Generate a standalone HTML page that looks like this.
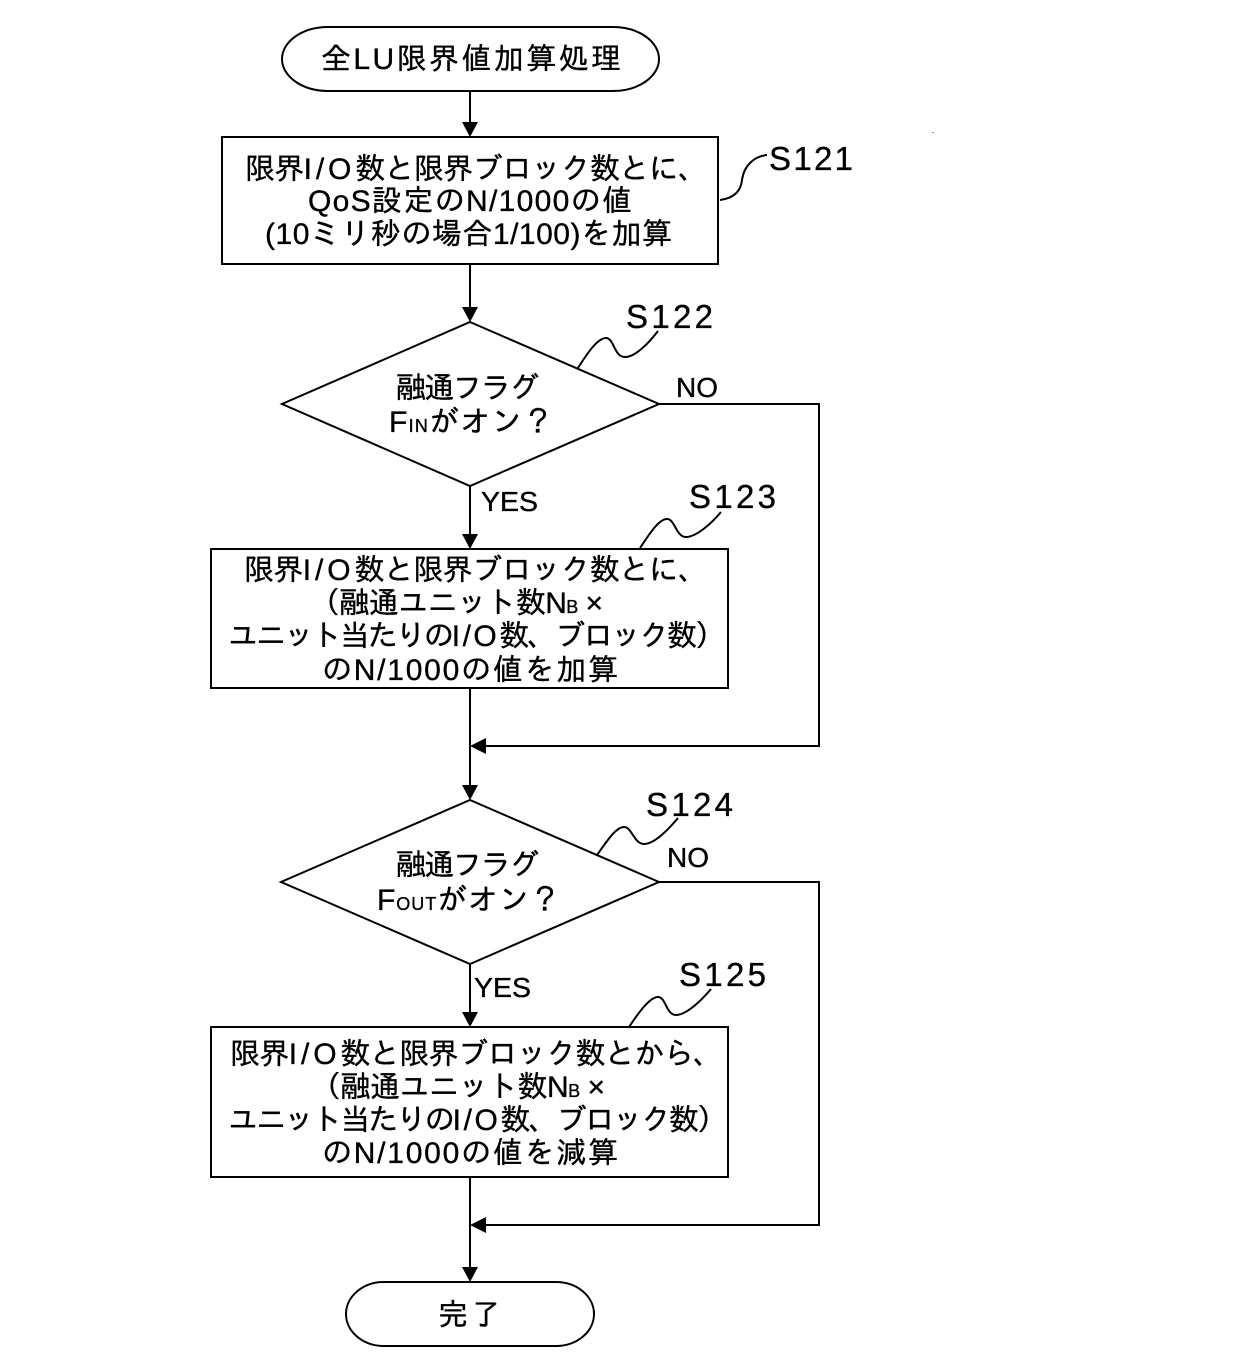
<!DOCTYPE html>
<html><head><meta charset="utf-8"><style>
html,body{margin:0;padding:0;background:#fff}
svg{display:block}
text{font-family:"Liberation Sans","IPAGothic","Noto Sans CJK JP",sans-serif;fill:#000;stroke:#000;stroke-width:.35;font-size:30px}
.s{font-size:28px}
.l{font-size:33px}
.w{letter-spacing:4.5px}
</style></head><body>
<svg width="1244" height="1370" viewBox="0 0 1244 1370" xmlns="http://www.w3.org/2000/svg">
<g fill="none" stroke="#000" stroke-width="2">
<rect x="282" y="27" width="377" height="64" rx="46" ry="32"/>
<rect x="222" y="137" width="496" height="127"/>
<polygon points="470,322 659,404 470,486 282,404"/>
<rect x="211" y="549" width="517" height="139"/>
<polygon points="470,800 659,882 470,964 281,882"/>
<rect x="211" y="1027" width="517" height="150"/>
<rect x="346" y="1282" width="248" height="64" rx="38" ry="32"/>
<path d="M470 91V125M470 264V310M470 486V537M470 688V788M470 964V1015M470 1177V1270"/>
<path d="M659 404H819V746H484M659 882H819V1225H484"/>
<path d="M720 200C735 198 741 190 742 180C744 165 755 156 767 155"/>
<path d="M578 368C588 352 598 338 606 338C614 338 614 357 625 357C635 357 648 344 658 331"/>
<path d="M640 548C650 533 659 519 667 519C675 519 676 537 686 537C696 537 711 524 721 512"/>
<path d="M597 855C607 841 616 827 624 827C632 827 634 844 644 844C654 844 668 830 678 818"/>
<path d="M629 1027C639 1012 650 997 658 997C666 997 666 1015 676 1015C686 1015 701 1001 711 989"/>
</g>
<g fill="#000">
<polygon points="470,137 462,122 478,122"/>
<polygon points="470,322 462,307 478,307"/>
<polygon points="470,549 462,534 478,534"/>
<polygon points="470,800 462,785 478,785"/>
<polygon points="470,1027 462,1012 478,1012"/>
<polygon points="470,1282 462,1267 478,1267"/>
<polygon points="470,746 486,738 486,754"/>
<polygon points="470,1225 486,1217 486,1233"/>
<rect x="932" y="132" width="2" height="1" fill="#999"/>
</g>
<text x="321" y="69" textLength="300" lengthAdjust="spacing">全LU限界値加算処理</text>
<text x="245" y="179" textLength="463" lengthAdjust="spacing">限界<tspan class="w">I/O</tspan>数と限界ブロック数とに、</text>
<text x="308" y="211" textLength="324" lengthAdjust="spacing">QoS設定のN/1000の値</text>
<text x="265" y="244" textLength="407" lengthAdjust="spacing">(10ミリ秒の場合1/100)を加算</text>
<text x="396" y="398" textLength="143" lengthAdjust="spacing">融通フラグ</text>
<text x="389" y="432" textLength="164" lengthAdjust="spacing">F<tspan font-size="18">IN</tspan>がオン？</text>
<text x="244" y="580" textLength="464" lengthAdjust="spacing">限界<tspan class="w">I/O</tspan>数と限界ブロック数とに、</text>
<text x="310" y="613" textLength="293" lengthAdjust="spacing">（融通ユニット数N<tspan font-size="18">B</tspan> ×</text>
<text x="228" y="646" textLength="497" lengthAdjust="spacing">ユニット当たりの<tspan class="w">I/O</tspan>数、ブロック数）</text>
<text x="322" y="680" textLength="296" lengthAdjust="spacing">のN/1000の値を加算</text>
<text x="396" y="875" textLength="143" lengthAdjust="spacing">融通フラグ</text>
<text x="377" y="910" textLength="183" lengthAdjust="spacing">F<tspan font-size="18">OUT</tspan>がオン？</text>
<text x="230" y="1064" textLength="493" lengthAdjust="spacing">限界<tspan class="w">I/O</tspan>数と限界ブロック数とから、</text>
<text x="311" y="1097" textLength="294" lengthAdjust="spacing">（融通ユニット数N<tspan font-size="18">B</tspan> ×</text>
<text x="228" y="1130" textLength="499" lengthAdjust="spacing">ユニット当たりの<tspan class="w">I/O</tspan>数、ブロック数）</text>
<text x="322" y="1163" textLength="296" lengthAdjust="spacing">のN/1000の値を減算</text>
<text x="438" y="1325" textLength="63" lengthAdjust="spacing">完了</text>
<text class="s" x="676" y="397" textLength="42" lengthAdjust="spacingAndGlyphs">NO</text>
<text class="s" x="667" y="867" textLength="42" lengthAdjust="spacingAndGlyphs">NO</text>
<text class="s" x="481" y="511" textLength="57" lengthAdjust="spacingAndGlyphs">YES</text>
<text class="s" x="474" y="997" textLength="57" lengthAdjust="spacingAndGlyphs">YES</text>
<text class="l" x="769" y="170" textLength="84" lengthAdjust="spacing">S121</text>
<text class="l" x="626" y="328" textLength="87" lengthAdjust="spacing">S122</text>
<text class="l" x="689" y="508" textLength="87" lengthAdjust="spacing">S123</text>
<text class="l" x="646" y="816" textLength="87" lengthAdjust="spacing">S124</text>
<text class="l" x="679" y="986" textLength="87" lengthAdjust="spacing">S125</text>
</svg>
</body></html>
